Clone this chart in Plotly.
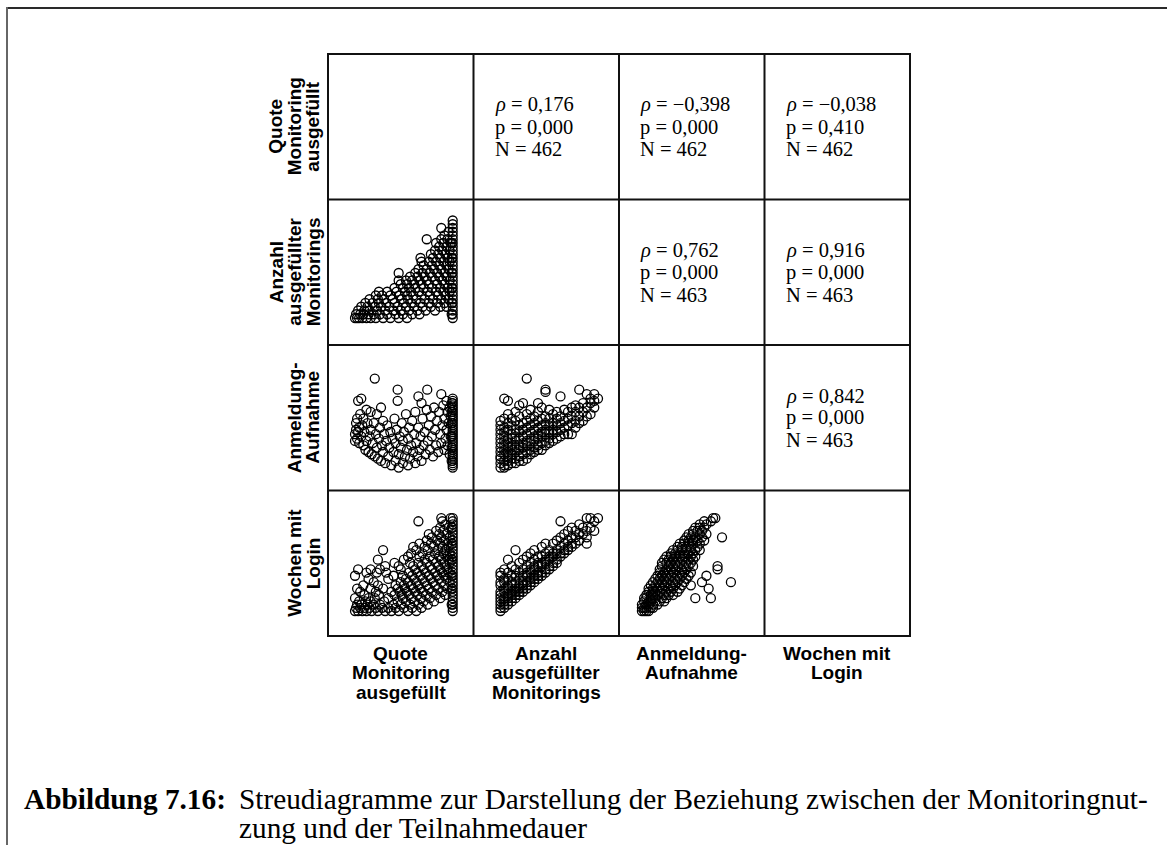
import plotly.graph_objects as go

# ---------------------------------------------------------------- page geometry
W_PX, H_PX = 1167, 845
GRID_X0, GRID_Y0, CELL = 328.0, 54.0, 145.5
N_VARS = 4

# ---------------------------------------------------------------- variables
var_names = ["quote", "anzahl", "dauer", "wochen"]
var_labels = [
    ["Quote", "Monitoring", "ausgefüllt"],
    ["Anzahl", "ausgefüllter", "Monitorings"],
    ["Anmeldung-", "Aufnahme"],
    ["Wochen mit", "Login"],
]
var_ranges = {
    "quote": [-0.2, 1.2],
    "anzahl": [-6.2, 32.6],
    "dauer": [-10.3, 55.1],
    "wochen": [-6.8, 38.6],
}

# ---------------------------------------------------------------- correlations (upper triangle)
corr_cells = [(0, 1), (0, 2), (0, 3), (1, 2), (1, 3), (2, 3)]
corr_rho = ["0,176", "−0,398", "−0,038", "0,762", "0,916", "0,842"]
corr_p = ["0,000", "0,000", "0,410", "0,000", "0,000", "0,000"]
corr_n = [462, 462, 462, 463, 463, 463]

# ---------------------------------------------------------------- scatter data (lower triangle)
# Quote ausgefüllt (x) vs. Anzahl ausgefüllter Monitorings (y)
p21_quote = (
    [1.0] * 27 + [0.99] * 6
    + [0.06, 0.08, 0.10, 0.13, 0.17, 0.21, 0.26, 0.33, 0.40, 0.48, 0.56]
    + [0.07, 0.11, 0.14, 0.19, 0.24, 0.30, 0.37, 0.45, 0.52, 0.61, 0.68]
    + [0.09, 0.15, 0.20, 0.27, 0.35, 0.43, 0.50, 0.58, 0.66, 0.74, 0.83]
    + [0.12, 0.18, 0.25, 0.31, 0.39, 0.47, 0.55, 0.63, 0.71, 0.79, 0.88, 0.94]
    + [0.16, 0.23, 0.29, 0.36, 0.44, 0.53, 0.60, 0.69, 0.77, 0.85, 0.92]
    + [0.20, 0.28, 0.34, 0.42, 0.51, 0.57, 0.65, 0.73, 0.81, 0.89, 0.96]
    + [0.26, 0.32, 0.40, 0.49, 0.56, 0.62, 0.70, 0.78, 0.86, 0.93]
    + [0.29, 0.37, 0.46, 0.54, 0.60, 0.67, 0.76, 0.84, 0.91, 0.97]
    + [0.44, 0.52, 0.58, 0.64, 0.72, 0.80, 0.88, 0.95]
    + [0.50, 0.56, 0.63, 0.70, 0.77, 0.85, 0.92]
    + [0.48, 0.55, 0.61, 0.68, 0.75, 0.83, 0.90, 0.97]
    + [0.59, 0.66, 0.73, 0.80, 0.87, 0.94]
    + [0.48, 0.64, 0.71, 0.78, 0.85, 0.92]
    + [0.67, 0.75, 0.82, 0.89, 0.96]
    + [0.72, 0.80, 0.87, 0.94]
    + [0.70, 0.77, 0.84, 0.91, 0.97]
    + [0.69, 0.81, 0.88, 0.95]
    + [0.79, 0.86, 0.93]
    + [0.83, 0.90, 0.97]
    + [0.87, 0.94]
    + [0.84, 0.91, 0.98]
    + [0.75, 0.89, 0.95]
    + [0.92, 0.96, 0.89]
)
p21_anzahl = (
    list(range(1, 28)) + [2, 5, 9, 13, 17, 21]
    + [1] * 11 + [2] * 11 + [3] * 11 + [4] * 12 + [5] * 11 + [6] * 11
    + [7] * 10 + [8] * 10 + [9] * 8 + [10] * 7 + [11] * 8 + [12] * 6
    + [13] * 6 + [14] * 5 + [15] * 4 + [16] * 5 + [17] * 4 + [18] * 3
    + [19] * 3 + [20] * 2 + [21] * 3 + [22] * 3 + [23, 24, 25]
)

# Quote ausgefüllt (x) vs. Anmeldung-Aufnahme (y)
p31_quote = [1.0] * 32 + [0.99] * 6 + [
    0.06, 0.06, 0.07, 0.07, 0.08, 0.08, 0.09, 0.09, 0.10, 0.10, 0.11, 0.12, 0.12, 0.13,
    0.14, 0.14, 0.15, 0.16, 0.17, 0.17, 0.18, 0.19, 0.20, 0.21, 0.21, 0.22, 0.23, 0.24,
    0.25, 0.25, 0.26, 0.27, 0.27, 0.28, 0.29, 0.30, 0.31, 0.31, 0.32, 0.33, 0.33, 0.34,
    0.35, 0.36, 0.37, 0.38, 0.39, 0.40, 0.41, 0.42, 0.43, 0.44, 0.45, 0.45, 0.46, 0.47,
    0.47, 0.48, 0.48, 0.49, 0.50, 0.51, 0.52, 0.52, 0.53, 0.54, 0.55, 0.56, 0.57, 0.57,
    0.58, 0.59, 0.60, 0.61, 0.62, 0.63, 0.64, 0.64, 0.65, 0.66, 0.67, 0.67, 0.68, 0.69,
    0.70, 0.70, 0.71, 0.72, 0.73, 0.74, 0.75, 0.755, 0.76, 0.77, 0.78, 0.79, 0.80, 0.81,
    0.82, 0.83, 0.84, 0.85, 0.86, 0.87, 0.88, 0.89, 0.89, 0.90, 0.91, 0.92, 0.92, 0.93,
    0.94, 0.94, 0.95, 0.95, 0.96, 0.97, 0.97, 0.98, 0.98,
]
p31_dauer = list(range(0, 32)) + [3, 9, 14, 20, 25, 29] + [
    12, 15, 17, 20, 13, 22, 30, 16, 18, 11, 24, 31, 14, 19,
    10, 22, 16, 8, 26, 12, 20, 7, 14, 17, 25, 6, 11, 20,
    40, 5, 15, 9, 24, 4, 13, 18, 27, 3, 10, 7, 21, 15,
    2, 12, 19, 5, 9, 16, 1, 13, 7, 22, 3, 11, 17, 35,
    30, 0, 6, 14, 9, 20, 2, 12, 16, 5, 24, 8, 1, 13,
    18, 4, 10, 21, 7, 15, 2, 25, 11, 5, 32, 18, 8, 14,
    29, 3, 22, 10, 16, 6, 26, 35, 12, 19, 8, 23, 14, 5,
    27, 17, 10, 21, 7, 25, 15, 33, 11, 19, 28, 8, 22, 13,
    30, 17, 10, 25, 20, 6, 27, 14, 23,
]

# Anzahl ausgefüllter Monitorings (x) vs. Anmeldung-Aufnahme (y)
p32_anzahl = (
    [1] * 12 + [2] * 12 + [3] * 11 + [4] * 9 + [5] * 9 + [6] * 9 + [7] * 8
    + [8] * 9 + [9] * 8 + [10] * 7 + [11] * 8 + [12] * 7 + [13] * 8 + [14] * 6
    + [15] * 5 + [16] * 5 + [17] * 5 + [18] * 4 + [19] * 4 + [20] * 4
    + [21] * 4 + [22] * 4 + [23] * 3 + [24] * 3 + [25] * 3 + [26] * 3 + [27]
)
p32_dauer = (
    [0, 2, 4, 5, 7, 9, 11, 13, 15, 17, 19, 21]
    + [0, 1, 3, 6, 8, 10, 12, 14, 16, 18, 22, 31]
    + [1, 3, 5, 7, 9, 11, 13, 17, 20, 24, 30]
    + [2, 4, 6, 8, 10, 13, 15, 19, 22]
    + [2, 4, 7, 9, 12, 14, 17, 21, 25]
    + [3, 5, 8, 10, 13, 16, 19, 23, 28]
    + [3, 6, 9, 11, 14, 17, 20, 29]
    + [40, 4, 7, 10, 12, 15, 18, 21, 24]
    + [6, 8, 11, 13, 16, 19, 22, 26]
    + [7, 9, 12, 14, 17, 20, 23]
    + [8, 10, 13, 15, 18, 21, 25, 29]
    + [8, 11, 14, 16, 19, 22, 27]
    + [10, 12, 15, 17, 20, 23, 35, 34]
    + [11, 13, 16, 19, 22, 26]
    + [12, 15, 17, 20, 24]
    + [13, 16, 19, 22, 25]
    + [14, 17, 20, 23, 32]
    + [15, 18, 21, 26]
    + [15, 19, 22, 25]
    + [15, 20, 23, 27]
    + [18, 21, 25, 28]
    + [20, 23, 27, 35]
    + [21, 25, 29]
    + [23, 27, 33]
    + [24, 31, 29]
    + [27, 30, 33]
    + [31]
)

# Quote ausgefüllt (x) vs. Wochen mit Login (y)
p41_quote = [1.0] * 30 + [0.99] * 6 + (
    [0.06, 0.09, 0.13, 0.17, 0.22, 0.28, 0.35, 0.41, 0.48, 0.57, 0.65]
    + [0.07, 0.11, 0.15, 0.20, 0.26, 0.32, 0.38, 0.45, 0.53, 0.61, 0.70]
    + [0.08, 0.12, 0.18, 0.24, 0.30, 0.43, 0.50, 0.59, 0.67, 0.76]
    + [0.10, 0.16, 0.21, 0.34, 0.47, 0.55, 0.63, 0.72, 0.82]
    + [0.06, 0.19, 0.25, 0.38, 0.52, 0.60, 0.69, 0.78, 0.88]
    + [0.15, 0.29, 0.44, 0.51, 0.58, 0.66, 0.74, 0.84, 0.93]
    + [0.11, 0.26, 0.41, 0.49, 0.56, 0.64, 0.71, 0.80, 0.90]
    + [0.08, 0.21, 0.33, 0.47, 0.54, 0.62, 0.69, 0.77, 0.86, 0.95]
    + [0.14, 0.28, 0.45, 0.53, 0.60, 0.67, 0.75, 0.83, 0.92]
    + [0.24, 0.50, 0.57, 0.65, 0.73, 0.81, 0.89, 0.97]
    + [0.19, 0.38, 0.55, 0.63, 0.71, 0.79, 0.87, 0.94]
    + [0.06, 0.43, 0.52, 0.61, 0.69, 0.77, 0.85, 0.92]
    + [0.17, 0.27, 0.36, 0.58, 0.66, 0.74, 0.83, 0.90, 0.96]
    + [0.09, 0.21, 0.30, 0.50, 0.64, 0.72, 0.80, 0.88, 0.95]
    + [0.35, 0.48, 0.62, 0.70, 0.78, 0.86, 0.93]
    + [0.44, 0.59, 0.67, 0.75, 0.84, 0.91, 0.97]
    + [0.28, 0.53, 0.73, 0.81, 0.89, 0.96]
    + [0.57, 0.68, 0.78, 0.87, 0.94]
    + [0.60, 0.71, 0.83, 0.91, 0.97]
    + [0.33, 0.65, 0.76, 0.86, 0.93]
    + [0.62, 0.73, 0.82, 0.90, 0.96]
    + [0.68, 0.79, 0.88, 0.95]
    + [0.75, 0.85, 0.92]
    + [0.80, 0.89, 0.97]
    + [0.77, 0.87, 0.94]
    + [0.84, 0.91]
    + [0.88, 0.96]
    + [0.93]
    + [0.67, 0.90]
    + [0.89, 0.98]
)
p41_wochen = list(range(1, 31)) + [3, 8, 12, 17, 22, 27] + (
    [1] * 11 + [2] * 11 + [3] * 10 + [4] * 9 + [5] * 9 + [6] * 9
    + [7] * 9 + [8] * 10 + [9] * 9 + [10] * 8 + [11] * 8 + [12] * 8
    + [13] * 9 + [14] * 9 + [15] * 7 + [16] * 7 + [17] * 6 + [18] * 5
    + [19] * 5 + [20] * 5 + [21] * 5 + [22] * 4 + [23] * 3 + [24] * 3
    + [25] * 3 + [26] * 2 + [27] * 2 + [28] + [29] * 2 + [30] * 2
)

# Anzahl ausgefüllter Monitorings (x) vs. Wochen mit Login (y)
p42_anzahl = (
    [1] * 11 + [2] * 9 + [3] * 9 + [4] * 8 + [5] * 8 + [6] * 7 + [7] * 7
    + [8] * 7 + [9] * 7 + [10] * 7 + [11] * 6 + [12] * 6 + [13] * 6
    + [14] * 5 + [15] * 5 + [16] * 5 + [17] * 5 + [18] * 4 + [19] * 4
    + [20] * 4 + [21] * 3 + [22] * 3 + [23] * 2 + [24] * 4 + [25] * 2
    + [26] * 2 + [27]
)
p42_wochen = (
    [1, 2, 3, 4, 5, 6, 7, 9, 10, 12, 13]
    + [2, 3, 4, 5, 7, 8, 10, 11, 14]
    + [3, 4, 5, 6, 8, 9, 11, 13, 17]
    + [4, 5, 6, 7, 9, 10, 12, 15]
    + [5, 6, 7, 8, 10, 12, 14, 20]
    + [6, 7, 8, 9, 11, 13, 16]
    + [7, 8, 9, 10, 12, 14, 17]
    + [8, 9, 10, 12, 13, 15, 18]
    + [9, 10, 11, 13, 14, 16, 19]
    + [10, 11, 12, 14, 15, 17, 20]
    + [11, 12, 13, 15, 16, 18]
    + [12, 13, 15, 16, 18, 21]
    + [13, 14, 16, 17, 19, 22]
    + [14, 15, 17, 18, 20]
    + [15, 16, 18, 19, 22]
    + [16, 17, 19, 20, 23]
    + [18, 19, 21, 24, 29]
    + [19, 20, 22, 25]
    + [20, 21, 23, 26]
    + [21, 22, 24, 27]
    + [22, 24, 26]
    + [23, 25, 28]
    + [25, 27]
    + [24, 26, 30, 22]
    + [27, 30]
    + [29, 26]
    + [30]
)

# Anmeldung-Aufnahme (x) vs. Wochen mit Login (y)
p43_dauer = (
    [0, 1, 2, 3]
    + [0, 1, 2, 4, 5]
    + [0, 2, 3, 5, 7]
    + [1, 3, 4, 6, 8, 10]
    + [1, 2, 4, 6, 9, 11, 24, 31]
    + [2, 4, 5, 7, 10, 12, 14]
    + [3, 5, 6, 8, 11, 13, 16]
    + [3, 5, 7, 9, 12, 14, 17, 30]
    + [4, 6, 8, 10, 13, 15, 18, 22]
    + [5, 7, 9, 11, 14, 16, 19, 27, 40]
    + [6, 8, 10, 12, 15, 17, 20]
    + [7, 9, 11, 13, 16, 18, 21, 29]
    + [8, 10, 12, 14, 17, 19, 22]
    + [8, 11, 13, 15, 18, 20, 34]
    + [9, 12, 14, 16, 19, 21, 23, 34]
    + [9, 11, 13, 15, 17, 20, 22]
    + [10, 12, 14, 16, 18, 21, 23]
    + [11, 13, 15, 17, 19, 22, 24]
    + [13, 15, 17, 19, 21, 23]
    + [14, 16, 18, 20, 22, 24, 26]
    + [16, 18, 20, 22, 25]
    + [17, 19, 21, 23, 26]
    + [19, 21, 23, 25, 28]
    + [20, 22, 24, 27, 36]
    + [21, 23, 26, 29]
    + [23, 25, 27]
    + [24, 26, 28]
    + [26, 29]
    + [28, 31]
    + [32, 33]
)
p43_wochen = (
    [1] * 4 + [2] * 5 + [3] * 5 + [4] * 6 + [5] * 8 + [6] * 7 + [7] * 7
    + [8] * 8 + [9] * 8 + [10] * 9 + [11] * 7 + [12] * 8 + [13] * 7
    + [14] * 7 + [15] * 8 + [16] * 7 + [17] * 7 + [18] * 7 + [19] * 6
    + [20] * 7 + [21] * 5 + [22] * 5 + [23] * 5 + [24] * 5 + [25] * 4
    + [26] * 3 + [27] * 3 + [28] * 2 + [29] * 2 + [30] * 2
)

panels = [
    (1, 0, p21_quote, p21_anzahl),
    (2, 0, p31_quote, p31_dauer),
    (2, 1, p32_anzahl, p32_dauer),
    (3, 0, p41_quote, p41_wochen),
    (3, 1, p42_anzahl, p42_wochen),
    (3, 2, p43_dauer, p43_wochen),
]

# ---------------------------------------------------------------- caption
caption_label = "Abbildung 7.16:"
caption_line1 = "Streudiagramme zur Darstellung der Beziehung zwischen der Monitoringnut-"
caption_line2 = "zung und der Teilnahmedauer"


def px_x(x):
    return x / W_PX


def px_y(y):
    return 1 - y / H_PX


def cell_dom_x(col):
    return [px_x(GRID_X0 + CELL * col), px_x(GRID_X0 + CELL * (col + 1))]


def cell_dom_y(row):
    return [px_y(GRID_Y0 + CELL * (row + 1)), px_y(GRID_Y0 + CELL * row)]


fig = go.Figure()
layout_axes = {}
for k, (row, col, xs, ys) in enumerate(panels, start=1):
    sfx = "" if k == 1 else str(k)
    fig.add_trace(
        go.Scatter(
            x=xs, y=ys, mode="markers",
            marker=dict(symbol="circle-open", size=9, color="black", line=dict(width=1.3)),
            xaxis="x" + sfx, yaxis="y" + sfx,
            showlegend=False, hoverinfo="skip",
        )
    )
    layout_axes["xaxis" + sfx] = dict(
        domain=cell_dom_x(col), range=var_ranges[var_names[col]],
        visible=False, fixedrange=True, anchor="y" + sfx,
    )
    layout_axes["yaxis" + sfx] = dict(
        domain=cell_dom_y(row), range=var_ranges[var_names[row]],
        visible=False, fixedrange=True, anchor="x" + sfx,
    )

shapes = []
# matrix grid
for i in range(N_VARS + 1):
    xg = GRID_X0 + CELL * i
    yg = GRID_Y0 + CELL * i
    shapes.append(dict(type="line", xref="paper", yref="paper",
                       x0=px_x(xg), x1=px_x(xg),
                       y0=px_y(GRID_Y0 - 1), y1=px_y(GRID_Y0 + CELL * N_VARS + 1),
                       line=dict(color="#111111", width=2)))
    shapes.append(dict(type="line", xref="paper", yref="paper",
                       x0=px_x(GRID_X0 - 1), x1=px_x(GRID_X0 + CELL * N_VARS + 1),
                       y0=px_y(yg), y1=px_y(yg),
                       line=dict(color="#111111", width=2)))
# page frame
shapes.append(dict(type="line", xref="paper", yref="paper",
                   x0=px_x(6), x1=1, y0=px_y(8), y1=px_y(8),
                   line=dict(color="#2a2a2a", width=2)))
shapes.append(dict(type="line", xref="paper", yref="paper",
                   x0=px_x(7), x1=px_x(7), y0=px_y(7), y1=0,
                   line=dict(color="#666666", width=2)))

annotations = []
LABEL_FONT = dict(family="Liberation Sans", size=19, color="black")
LINE_STEP = 18.5

for i, lines in enumerate(var_labels):
    n = len(lines)
    # row labels, rotated, last line closest to the grid
    yc = GRID_Y0 + CELL * (i + 0.5)
    for j, txt in enumerate(lines):
        xc = 313 - LINE_STEP * (n - 1 - j)
        annotations.append(dict(
            x=px_x(xc), y=px_y(yc), xref="paper", yref="paper",
            text="<b>%s</b>" % txt, textangle=-90, showarrow=False,
            xanchor="center", yanchor="middle", font=LABEL_FONT,
        ))
    # column labels below the grid
    xc = GRID_X0 + CELL * (i + 0.5)
    for j, txt in enumerate(lines):
        yl = 653 + 19.5 * j
        annotations.append(dict(
            x=px_x(xc), y=px_y(yl), xref="paper", yref="paper",
            text="<b>%s</b>" % txt, showarrow=False,
            xanchor="center", yanchor="middle", font=LABEL_FONT,
        ))

STAT_FONT = dict(family="Liberation Serif", size=20.5, color="black")
for (r, c), rho, p, n in zip(corr_cells, corr_rho, corr_p, corr_n):
    x0 = GRID_X0 + CELL * c + 19
    y0 = GRID_Y0 + CELL * r + 51
    for j, txt in enumerate(["<i>ρ</i> = %s" % rho, "p = %s" % p, "N = %d" % n]):
        annotations.append(dict(
            x=px_x(x0), y=px_y(y0 + 22 * j), xref="paper", yref="paper",
            text=txt, showarrow=False, xanchor="left", yanchor="middle",
            font=STAT_FONT,
        ))

CAP_FONT = dict(family="Liberation Serif", size=29.3, color="black")
CAP_Y1, CAP_Y2 = 799, 828
CAP_TEXT_X = 237
annotations.append(dict(
    x=px_x(22), y=px_y(CAP_Y1), xref="paper", yref="paper",
    text="<b>%s</b>" % caption_label, showarrow=False,
    xanchor="left", yanchor="middle", font=CAP_FONT,
))
annotations.append(dict(
    x=px_x(CAP_TEXT_X), y=px_y(CAP_Y1), xref="paper", yref="paper",
    text=caption_line1, showarrow=False, xanchor="left", yanchor="middle", font=CAP_FONT,
))
annotations.append(dict(
    x=px_x(CAP_TEXT_X), y=px_y(CAP_Y2), xref="paper", yref="paper",
    text=caption_line2, showarrow=False, xanchor="left", yanchor="middle", font=CAP_FONT,
))

fig.update_layout(
    width=W_PX, height=H_PX, autosize=False,
    margin=dict(l=0, r=0, t=0, b=0),
    paper_bgcolor="white", plot_bgcolor="rgba(0,0,0,0)",
    shapes=shapes, annotations=annotations,
    **layout_axes,
)

fig.write_html("out.html", config={"displayModeBar": False})
